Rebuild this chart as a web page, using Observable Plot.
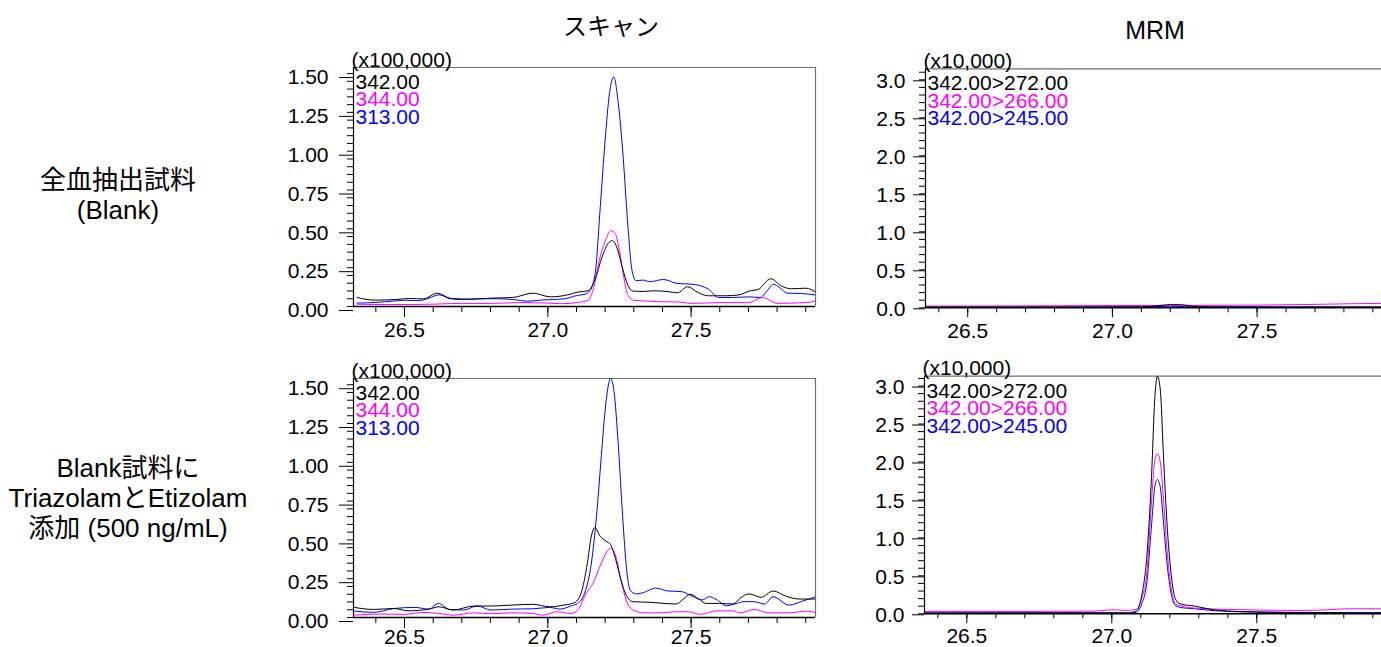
<!DOCTYPE html>
<html>
<head>
<meta charset="utf-8">
<script src="https://cdn.jsdelivr.net/npm/d3@7"></script>
<script src="https://cdn.jsdelivr.net/npm/@observablehq/plot@0.6"></script>
<style>
  html, body { margin: 0; padding: 0; background: #fff; }
  body { width: 1381px; height: 647px; overflow: hidden; position: relative;
         font-family: "Liberation Sans", Arial, "Noto Sans CJK JP", sans-serif; color: #000; }
  .abs { position: absolute; }
  .title { line-height: 1; white-space: nowrap; transform: translate(-50%, -50%); }
  .rowlab { text-align: center; font-size: 26px; line-height: 30px; white-space: nowrap;
            font-family: "Liberation Sans", Arial, "Noto Sans CJK JP", sans-serif; }
</style>
</head>
<body>
<div class="abs title" style="left:611px; top:25px; font-size:24px; font-family:'Noto Sans CJK JP', sans-serif;">スキャン</div>
<div class="abs title" style="left:1155px; top:30px; font-size:25px;">MRM</div>
<div class="abs rowlab" style="left:0px; top:165px; width:236px;">全血抽出試料<br>(Blank)</div>
<div class="abs rowlab" style="left:0px; top:453px; width:256px;">Blank試料に<br>TriazolamとEtizolam<br>添加 (500 ng/mL)</div>

<script>
// ---------- tick labels ----------
const xMajorTicks = [26.5, 27.0, 27.5];
const scanYTicks = [0, 0.25, 0.5, 0.75, 1.0, 1.25, 1.5];
const mrmYTicks = [0, 0.5, 1.0, 1.5, 2.0, 2.5, 3.0];
const scanLabels = ["342.00", "344.00", "313.00"];
const mrmLabels = ["342.00>272.00", "342.00>266.00", "342.00>245.00"];
const seriesColors = ["#000000", "#ff00ff", "#0000ff"];

// ---------- data: [retention time (min), intensity] ----------
// Scan, Blank (x100,000)
const scanBlank342 = [[26.334,0.058],[26.398,0.041],[26.47,0.045],[26.518,0.052],[26.566,0.049],[26.614,0.086],[26.662,0.052],[26.734,0.047],[26.805,0.054],[26.877,0.058],[26.949,0.086],[27.009,0.062],[27.069,0.075],[27.105,0.093],[27.141,0.101],[27.165,0.176],[27.189,0.316],[27.213,0.413],[27.225,0.424],[27.243,0.37],[27.26,0.25],[27.278,0.144],[27.296,0.1],[27.332,0.097],[27.368,0.101],[27.416,0.097],[27.452,0.088],[27.488,0.127],[27.524,0.09],[27.56,0.069],[27.62,0.069],[27.668,0.075],[27.704,0.1],[27.734,0.11],[27.778,0.179],[27.814,0.133],[27.85,0.114],[27.9,0.118],[27.937,0.09]];
const scanBlank344 = [[26.334,0.015],[26.45,0.012],[26.6,0.015],[26.7,0.02],[26.8,0.02],[26.9,0.025],[27.0,0.022],[27.05,0.018],[27.1,0.025],[27.14,0.04],[27.16,0.12],[27.18,0.3],[27.2,0.42],[27.22,0.488],[27.235,0.47],[27.25,0.36],[27.265,0.19],[27.28,0.07],[27.3,0.04],[27.35,0.035],[27.4,0.03],[27.45,0.03],[27.5,0.02],[27.6,0.025],[27.7,0.025],[27.75,0.058],[27.8,0.02],[27.85,0.022],[27.9,0.025],[27.937,0.035]];
const scanBlank313 = [[26.334,0.022],[26.40,0.026],[26.46,0.035],[26.50,0.04],[26.55,0.038],[26.58,0.05],[26.62,0.075],[26.66,0.05],[26.70,0.045],[26.76,0.05],[26.82,0.05],[26.88,0.045],[26.93,0.034],[26.98,0.042],[27.02,0.045],[27.06,0.05],[27.10,0.07],[27.13,0.08],[27.145,0.097],[27.165,0.21],[27.183,0.64],[27.20,1.07],[27.215,1.37],[27.23,1.478],[27.246,1.306],[27.263,0.96],[27.278,0.553],[27.294,0.23],[27.308,0.166],[27.332,0.17],[27.356,0.16],[27.404,0.174],[27.452,0.148],[27.50,0.144],[27.53,0.135],[27.56,0.112],[27.596,0.058],[27.644,0.058],[27.704,0.062],[27.74,0.058],[27.765,0.1],[27.787,0.144],[27.81,0.12],[27.835,0.086],[27.883,0.084],[27.937,0.073]];

// MRM, Blank (x10,000)
const mrmBlank272 = [[26.354,0.01],[26.8,0.01],[27.1,0.012],[27.15,0.025],[27.2,0.042],[27.24,0.04],[27.28,0.02],[27.35,0.012],[27.93,0.01]];
const mrmBlank266 = [[26.354,0.022],[26.7,0.025],[27.0,0.03],[27.3,0.032],[27.5,0.035],[27.7,0.045],[27.8,0.052],[27.93,0.058]];
const mrmBlank245 = [[26.354,0.012],[27.1,0.012],[27.2,0.02],[27.3,0.012],[27.93,0.012]];

// Scan, spiked (x100,000)
const scanSpiked342 = [[26.326,0.065],[26.391,0.052],[26.464,0.058],[26.512,0.043],[26.585,0.054],[26.621,0.069],[26.669,0.048],[26.742,0.074],[26.802,0.074],[26.874,0.08],[26.947,0.085],[27.007,0.069],[27.056,0.08],[27.092,0.095],[27.116,0.156],[27.138,0.351],[27.152,0.525],[27.164,0.579],[27.182,0.525],[27.203,0.492],[27.219,0.47],[27.237,0.373],[27.255,0.243],[27.273,0.145],[27.297,0.102],[27.357,0.098],[27.406,0.091],[27.448,0.087],[27.472,0.117],[27.496,0.15],[27.527,0.119],[27.551,0.091],[27.599,0.091],[27.647,0.087],[27.671,0.124],[27.702,0.152],[27.744,0.13],[27.786,0.171],[27.829,0.139],[27.877,0.119],[27.937,0.119]];
const scanSpiked344 = [[26.326,0.015],[26.415,0.022],[26.5,0.02],[26.56,0.033],[26.621,0.026],[26.669,0.015],[26.742,0.03],[26.802,0.024],[26.874,0.03],[26.947,0.026],[26.983,0.015],[27.031,0.037],[27.08,0.026],[27.104,0.048],[27.134,0.156],[27.158,0.221],[27.182,0.33],[27.207,0.427],[27.219,0.447],[27.237,0.395],[27.255,0.243],[27.273,0.113],[27.297,0.048],[27.333,0.03],[27.394,0.03],[27.442,0.037],[27.49,0.037],[27.533,0.02],[27.587,0.043],[27.647,0.043],[27.671,0.03],[27.72,0.052],[27.768,0.03],[27.841,0.03],[27.901,0.041],[27.937,0.03]];
const scanSpiked313 = [[26.326,0.041],[26.391,0.033],[26.464,0.058],[26.536,0.065],[26.585,0.054],[26.618,0.091],[26.657,0.052],[26.705,0.048],[26.754,0.074],[26.802,0.048],[26.874,0.054],[26.947,0.056],[27.007,0.065],[27.043,0.054],[27.08,0.074],[27.104,0.091],[27.128,0.156],[27.152,0.351],[27.17,0.655],[27.185,1.0],[27.2,1.337],[27.215,1.526],[27.219,1.54],[27.231,1.457],[27.246,1.11],[27.261,0.655],[27.275,0.308],[27.287,0.178],[27.309,0.152],[27.333,0.16],[27.376,0.19],[27.418,0.171],[27.466,0.167],[27.502,0.139],[27.539,0.113],[27.563,0.134],[27.587,0.117],[27.623,0.076],[27.659,0.091],[27.684,0.102],[27.72,0.102],[27.756,0.087],[27.786,0.134],[27.841,0.08],[27.889,0.106],[27.937,0.134]];

// MRM, spiked (x10,000)
const mrmSpiked272 = [[26.354,0.01],[26.711,0.013],[27.057,0.013],[27.086,0.044],[27.103,0.24],[27.121,0.77],[27.136,1.73],[27.149,2.88],[27.157,3.13],[27.167,2.96],[27.178,2.09],[27.19,1.21],[27.205,0.505],[27.219,0.198],[27.236,0.13],[27.288,0.1],[27.345,0.057],[27.403,0.035],[27.518,0.022],[27.749,0.013],[27.937,0.013]];
const mrmSpiked266 = [[26.354,0.031],[26.711,0.031],[26.942,0.035],[26.999,0.053],[27.057,0.044],[27.086,0.066],[27.103,0.2],[27.121,0.55],[27.136,1.43],[27.149,2.04],[27.157,2.11],[27.167,2.0],[27.178,1.52],[27.19,0.86],[27.205,0.33],[27.219,0.13],[27.242,0.1],[27.288,0.075],[27.403,0.057],[27.518,0.048],[27.634,0.044],[27.749,0.053],[27.807,0.066],[27.937,0.066]];
const mrmSpiked245 = [[26.354,0.01],[27.057,0.01],[27.086,0.022],[27.103,0.13],[27.121,0.42],[27.136,1.12],[27.149,1.69],[27.157,1.77],[27.167,1.67],[27.178,1.21],[27.19,0.68],[27.205,0.26],[27.219,0.11],[27.242,0.08],[27.288,0.066],[27.357,0.04],[27.518,0.022],[27.937,0.013]];

// ---------- panel builder ----------
const fmt2 = d3.format(".2f"), fmt1 = d3.format(".1f");
const xMinor = d3.range(264, 280).map(d => d / 10);
const scanYMinor = d3.range(0, 31).map(d => d * 0.05);
const mrmYMinor = d3.range(0, 32).map(d => d / 10);

function panel(cfg) {
  const [x0, x1] = cfg.xDomain;
  const series = cfg.series;
  const marks = [
    Plot.axisY({ticks: cfg.yMinor, tickSize: 6, tickFormat: () => "", anchor: "left"}),
    Plot.axisY({ticks: cfg.yMajor, tickSize: cfg.yTick, tickPadding: cfg.yPad, tickFormat: cfg.yFmt, fontSize: 21, dy: cfg.yDy, anchor: "left"}),
    Plot.axisX({ticks: xMinor, tickSize: cfg.xMinorTick, tickFormat: () => "", anchor: "bottom"}),
    Plot.axisX({ticks: xMajorTicks, tickSize: cfg.xTick, tickPadding: cfg.xPad, tickFormat: fmt1, fontSize: 21, anchor: "bottom"}),
    Plot.ruleY([cfg.yMax], {stroke: "#6e6e6e", strokeWidth: 1.2}),
    cfg.closed ? Plot.ruleX([x1], {stroke: "#6e6e6e", strokeWidth: 1.2}) : null,
    Plot.line(series[2], {x: d => d[0], y: d => d[1], stroke: seriesColors[2], strokeWidth: 1, curve: "monotone-x", clip: true}),
    Plot.line(series[1], {x: d => d[0], y: d => d[1], stroke: seriesColors[1], strokeWidth: 1, curve: "monotone-x", clip: true}),
    Plot.line(series[0], {x: d => d[0], y: d => d[1], stroke: seriesColors[0], strokeWidth: 1, curve: "monotone-x", clip: true}),
    Plot.ruleX([x0], {stroke: "#000", strokeWidth: 1.2}),
    Plot.ruleY([0], {stroke: "#000", strokeWidth: 1.6}),
    Plot.text([cfg.unit], {frameAnchor: "top-left", dx: -2, dy: -1, lineAnchor: "bottom", textAnchor: "start", fontSize: 21, fill: "#000"}),
    ...cfg.labels.map((lab, i) =>
      Plot.text([lab], {frameAnchor: "top-left", dx: 2, dy: [21.5, 38.8, 56.5][i], lineAnchor: "bottom", textAnchor: "start", fontSize: 21, fill: seriesColors[i]}))
  ];
  const svg = Plot.plot({
    width: cfg.width, height: cfg.height,
    marginTop: cfg.m[0], marginRight: cfg.m[1], marginBottom: cfg.m[2], marginLeft: cfg.m[3],
    x: {domain: [x0, x1]},
    y: {domain: [0, cfg.yMax]},
    style: {fontFamily: "'Liberation Sans', Arial, sans-serif", fontSize: "21px", background: "transparent", overflow: "visible", color: "#000"},
    marks
  });
  const wrap = document.createElement("div");
  wrap.className = "abs";
  wrap.style.left = cfg.left + "px";
  wrap.style.top = cfg.top + "px";
  wrap.appendChild(svg);
  document.body.appendChild(wrap);
}

const scanX = [26.322, 27.934];
const mrmX = [26.354, 27.93];

panel({left: 290, top: 40, width: 540, height: 305, m: [27, 15, 39, 63],
  xDomain: scanX, yMax: 1.539, yMajor: scanYTicks, yMinor: scanYMinor, yFmt: fmt2,
  yTick: 14, yPad: 11, yDy: 4, xTick: 11, xPad: 5, xMinorTick: 6, closed: true,
  unit: "(x100,000)", labels: scanLabels, series: [scanBlank342, scanBlank344, scanBlank313]});

panel({left: 860, top: 40, width: 521, height: 305, m: [28.3, 0, 37.7, 65],
  xDomain: mrmX, yMax: 3.145, yMajor: mrmYTicks, yMinor: mrmYMinor, yFmt: fmt1,
  yTick: 12, yPad: 8, yDy: 1, xTick: 10, xPad: 5, xMinorTick: 5, closed: false,
  unit: "(x10,000)", labels: mrmLabels, series: [mrmBlank272, mrmBlank266, mrmBlank245]});

panel({left: 290, top: 350, width: 540, height: 297, m: [28, 15, 30, 63],
  xDomain: scanX, yMax: 1.54, yMajor: scanYTicks, yMinor: scanYMinor, yFmt: fmt2,
  yTick: 14, yPad: 11, yDy: 4, xTick: 11, xPad: 1, xMinorTick: 6, closed: true,
  unit: "(x100,000)", labels: scanLabels, series: [scanSpiked342, scanSpiked344, scanSpiked313]});

panel({left: 860, top: 350, width: 521, height: 297, m: [25.7, 0, 33.7, 64],
  xDomain: mrmX, yMax: 3.13, yMajor: mrmYTicks, yMinor: mrmYMinor, yFmt: fmt1,
  yTick: 12, yPad: 8, yDy: 1, xTick: 10, xPad: 4, xMinorTick: 5, closed: false,
  unit: "(x10,000)", labels: mrmLabels, series: [mrmSpiked272, mrmSpiked266, mrmSpiked245]});
</script>
</body>
</html>
